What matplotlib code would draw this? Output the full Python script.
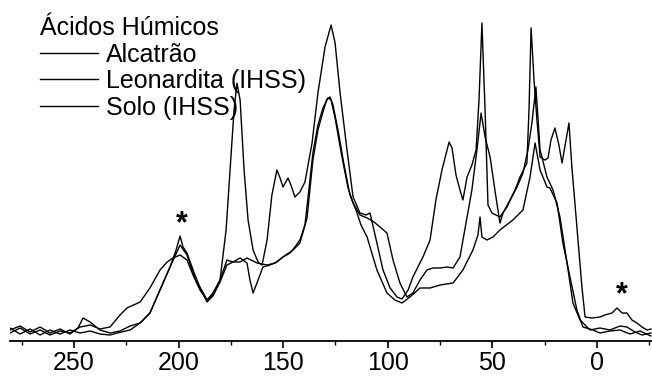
import matplotlib
matplotlib.use("Agg")
import matplotlib.pyplot as plt
import numpy as np

plt.rcParams['font.family'] = ['Liberation Sans', 'DejaVu Sans']

# chemical shift (ppm) and intensity (arbitrary units)
alcatrao_ppm = [280.6, 275.8, 271.0, 266.2, 261.5, 256.7, 251.9, 248.1, 245.7, 242.3,
                237.6, 232.8, 228.0, 223.2, 218.4, 213.7, 208.9, 204.1, 201.2, 199.3,
                197.9, 196.0, 192.2, 189.8, 186.4, 183.6, 180.2, 177.3, 175.4, 173.5,
                172.1, 170.6, 168.7, 166.8, 164.4, 162.0, 160.1, 157.7, 155.4, 153.0,
                151.5, 150.1, 147.7, 146.3, 144.4, 142.0, 139.6, 136.2, 133.4, 130.0,
                127.1, 125.2, 122.8, 119.5, 116.6, 113.3, 110.4, 108.5, 105.2, 102.3,
                98.9, 95.6, 93.2, 90.3, 88.0, 83.2, 79.8, 77.0, 74.1, 70.7,
                69.3, 67.4, 65.5, 64.1, 62.1, 59.8, 57.8, 56.4, 55.0, 53.5,
                52.1, 50.2, 46.4, 43.0, 39.2, 36.8, 33.5, 32.5, 31.5, 30.1,
                28.7, 27.2, 24.9, 23.4, 22.0, 20.1, 18.2, 16.7, 14.8, 13.4,
                12.0, 9.6, 7.2, 5.7, 2.4, -1.4, -3.8, -7.2, -9.6, -12.0,
                -14.3, -16.7, -19.1, -21.5, -23.9, -25.8]
alcatrao_int = [11, 15, 9, 14, 8, 12, 7, 13, 23, 19,
                11, 8, 10, 15, 18, 28, 51, 74, 91, 105,
                94, 88, 66, 54, 41, 48, 61, 111, 171, 231,
                258, 241, 171, 121, 91, 79, 76, 101, 146, 171,
                163, 154, 163, 156, 144, 149, 159, 198, 248, 294,
                316, 298, 248, 191, 144, 128, 126, 128, 98, 71,
                53, 44, 42, 51, 64, 84, 101, 141, 171, 199,
                193, 166, 151, 141, 164, 176, 191, 241, 318, 231,
                136, 128, 124, 134, 151, 164, 178, 231, 313, 261,
                221, 184, 181, 183, 201, 213, 196, 178, 201, 218,
                174, 114, 54, 24, 23, 24, 26, 28, 33, 28,
                28, 21, 18, 14, 11, 12]

leonardita_ppm = [280.6, 275.8, 271.0, 266.2, 261.5, 256.7, 251.9, 247.1, 242.3, 237.6,
                  232.8, 228.0, 224.7, 218.4, 213.7, 208.9, 205.5, 202.7, 199.3, 196.0,
                  193.1, 189.8, 186.4, 183.6, 180.2, 176.9, 174.0, 170.6, 167.3, 165.9,
                  164.4, 162.0, 159.7, 156.3, 153.0, 150.1, 146.7, 144.4, 142.0, 139.6,
                  135.8, 133.4, 131.0, 128.6, 127.1, 125.2, 121.9, 119.0, 116.6, 113.3,
                  109.9, 106.6, 103.7, 100.4, 97.5, 94.2, 90.8, 88.0, 84.6, 81.3,
                  78.4, 75.0, 71.7, 68.8, 65.5, 62.1, 59.8, 57.4, 55.4, 53.5,
                  51.1, 48.8, 46.4, 44.9, 41.6, 38.2, 35.4, 33.0, 31.1, 29.2,
                  27.2, 23.9, 21.0, 17.7, 14.3, 11.5, 8.1, 3.3, -1.4, -6.2,
                  -11.0, -14.3, -18.2, -21.5, -25.8]
leonardita_int = [8, 13, 7, 11, 6, 10, 8, 14, 16, 12,
                  14, 26, 33, 39, 53, 71, 79, 83, 86, 81,
                  66, 51, 41, 46, 61, 81, 79, 83, 78, 61,
                  48, 61, 74, 76, 79, 84, 88, 94, 101, 116,
                  188, 216, 233, 243, 241, 223, 184, 153, 138, 126,
                  123, 119, 114, 108, 81, 58, 44, 48, 61, 71,
                  73, 73, 74, 73, 84, 124, 151, 191, 228, 204,
                  184, 151, 118, 128, 141, 154, 168, 191, 218, 254,
                  191, 164, 151, 124, 78, 38, 21, 11, 13, 11,
                  15, 14, 9, 6, 8]

solo_ppm = [280.6, 275.8, 271.0, 266.2, 261.5, 256.7, 251.9, 247.1, 242.3, 237.6,
            232.8, 229.4, 223.2, 218.4, 213.7, 208.9, 204.1, 199.3, 196.0, 192.2,
            189.8, 186.4, 183.6, 180.2, 176.9, 174.0, 170.6, 167.3, 162.5, 157.7,
            153.9, 150.1, 145.3, 142.0, 138.6, 135.8, 133.4, 131.0, 129.1, 127.6,
            126.2, 123.8, 120.9, 118.1, 115.2, 112.8, 109.9, 105.2, 100.4, 96.6,
            93.2, 89.4, 84.6, 79.8, 75.0, 68.8, 64.1, 59.3, 56.9, 55.9,
            55.0, 52.6, 49.7, 46.4, 40.2, 35.4, 32.0, 29.6, 27.2, 23.9,
            22.5, 19.1, 16.3, 12.9, 9.6, 6.7, 1.9, -1.4, -6.2, -11.0,
            -15.8, -20.6, -25.8]
solo_int = [13, 7, 12, 6, 11, 7, 11, 8, 10, 7,
            6, 8, 11, 18, 28, 51, 74, 96, 86, 63,
            53, 39, 45, 59, 76, 79, 79, 83, 78, 76,
            78, 84, 91, 98, 123, 181, 211, 229, 242, 244,
            236, 211, 176, 146, 131, 116, 104, 71, 48, 41,
            38, 44, 53, 53, 56, 58, 71, 91, 106, 124,
            104, 101, 104, 111, 121, 131, 164, 198, 171, 154,
            153, 138, 98, 64, 31, 14, 11, 8, 10, 11,
            7, 10, 5]

series = [("Alcatrão", alcatrao_ppm, alcatrao_int),
          ("Leonardita (IHSS)", leonardita_ppm, leonardita_int),
          ("Solo (IHSS)", solo_ppm, solo_int)]

# spinning sidebands marked with *
sideband_ppm = [198.4, -12.0]
sideband_int = [117, 46]

fig = plt.figure(figsize=(6.52, 3.76), dpi=100)
ax = fig.add_axes([10 / 652, 35 / 376, 642 / 652, 341 / 376])

for name, x, y in series:
    ax.plot(x, y, color='black', lw=1.0, label=name)

for x, y in zip(sideband_ppm, sideband_int):
    ax.text(x, y, '*', fontsize=22, fontweight='bold', ha='center', va='center')

ax.set_xlim(280.6, -26.3)
ax.set_ylim(0, 341)
for s in ['top', 'left', 'right']:
    ax.spines[s].set_visible(False)
ax.spines['bottom'].set_linewidth(1.3)
ax.set_yticks([])
ax.set_xticks([250, 200, 150, 100, 50, 0])
ax.set_xticks(np.arange(275, -30, -25), minor=True)
ax.tick_params(axis='x', which='major', length=5, width=1.2, labelsize=18, pad=2)
ax.tick_params(axis='x', which='minor', length=3, width=1.0)
ax.patch.set_visible(False)

leg = ax.legend(title='Ácidos Húmicos', title_fontsize=18, fontsize=18,
                loc='upper left', bbox_to_anchor=(40 / 652, 1 - 16 / 376),
                bbox_transform=fig.transFigure, frameon=False, alignment='left',
                handlelength=2.3, handletextpad=0.35, labelspacing=0.1,
                borderpad=0, borderaxespad=0)

fig.savefig('out.png', dpi=100)
